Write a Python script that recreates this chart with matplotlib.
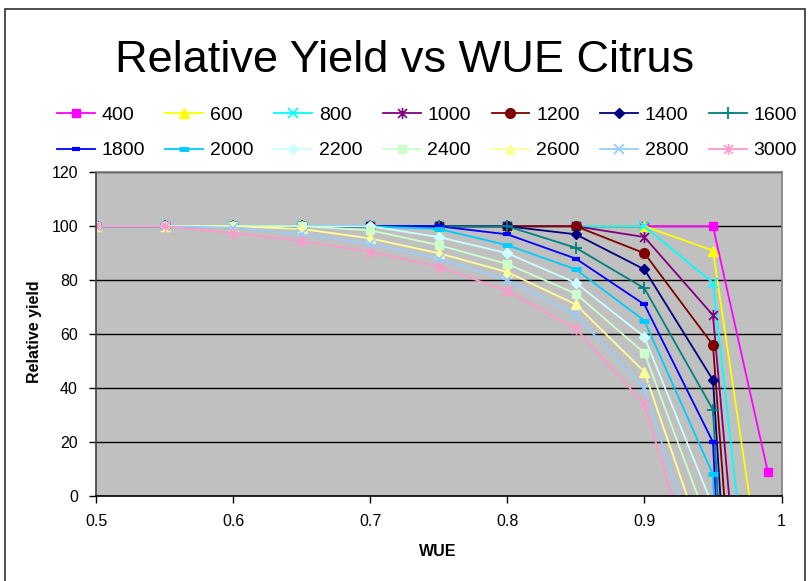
import matplotlib
matplotlib.use("Agg")
import matplotlib.pyplot as plt
from matplotlib.path import Path
from matplotlib.patches import Rectangle

plt.rcParams['font.family'] = ['Liberation Sans', 'DejaVu Sans']

# Water use efficiency values (x axis)
wue = [0.5, 0.55, 0.6, 0.65, 0.7, 0.75, 0.8, 0.85, 0.9, 0.95, 0.99]

# Relative yield for each water amount
y400 = [100, 100, 100, 100, 100, 100, 100, 100, 100, 100, 9]
y600 = [100, 100, 100, 100, 100, 100, 100, 100, 100, 91, -46]
y800 = [100, 100, 100, 100, 100, 100, 100, 100, 100, 79, -103]
y1000 = [100, 100, 100, 100, 100, 100, 100, 100, 96, 67, -160]
y1200 = [100, 100, 100, 100, 100, 100, 100, 100, 90, 56, -217]
y1400 = [100, 100, 100, 100, 100, 100, 100, 97, 84, 43, -275]
y1600 = [100, 100, 100, 100, 100, 100, 100, 92, 77, 32, -331]
y1800 = [100, 100, 100, 100, 100, 100, 97, 88, 71, 20, -389]
y2000 = [100, 100, 100, 100, 100, 99, 93, 84, 65, 8, -446]
y2200 = [100, 100, 100, 100, 100, 96, 90, 79, 59, -4, -503]
y2400 = [100, 100, 100, 100, 98.5, 93, 86, 75, 53, -15, -560]
y2600 = [100, 100, 100, 99, 95.5, 90, 83, 71, 46, -28, -618]
y2800 = [100, 100, 99.5, 97, 93.5, 88, 80, 67, 40, -40, -675]
y3000 = [100, 100, 97.5, 94.5, 90.5, 85, 76, 62, 34, -51, -733]

labels = ["400", "600", "800", "1000", "1200", "1400", "1600",
          "1800", "2000", "2200", "2400", "2600", "2800", "3000"]
series = [y400, y600, y800, y1000, y1200, y1400, y1600,
          y1800, y2000, y2200, y2400, y2600, y2800, y3000]

colors = ["#FF00FF", "#FFFF00", "#00FFFF", "#800080", "#800000", "#000080", "#008080",
          "#0000FF", "#00CCFF", "#CCFFFF", "#CCFFCC", "#FFFF99", "#99CCFF", "#FF99CC"]

# star marker: an x crossed by a vertical stroke
star = Path([(-1, -1), (1, 1), (-1, 1), (1, -1), (0, -1.25), (0, 1.25)],
            [Path.MOVETO, Path.LINETO] * 3)

styles = [
    dict(marker="s", ms=6),
    dict(marker="^", ms=7),
    dict(marker="x", ms=7, mew=1.3),
    dict(marker=star, ms=8, mew=1.2),
    dict(marker="o", ms=7),
    dict(marker="D", ms=5.5),
    dict(marker="+", ms=8, mew=1.3),
    dict(marker="_", ms=6, mew=3),
    dict(marker="_", ms=7, mew=3.5),
    dict(marker="D", ms=5.5),
    dict(marker="s", ms=6),
    dict(marker="^", ms=7),
    dict(marker="x", ms=7, mew=1.3),
    dict(marker=star, ms=8, mew=1.2),
]

fig = plt.figure(figsize=(8.11, 5.81), dpi=100)
fig.patch.set_facecolor("white")

ax = fig.add_axes([96 / 811, 1 - 496 / 581, 685.5 / 811, 323.7 / 581])
ax.set_facecolor("#C0C0C0")

handles = []
for vals, lab, col, st in zip(series, labels, colors, styles):
    st = dict(st)
    marker = st.pop("marker")
    ms = st.pop("ms")
    mew = st.pop("mew", 1.0)
    (h,) = ax.plot(wue, vals, color=col, lw=1.3, marker=marker, ms=ms,
                   mfc=col, mec=col, mew=mew, label=lab)
    handles.append(h)

ax.set_xlim(0.5, 1.0)
ax.set_ylim(0, 120)
ax.set_xticks([0.5, 0.6, 0.7, 0.8, 0.9, 1.0])
ax.set_xticklabels(["0.5", "0.6", "0.7", "0.8", "0.9", "1"])
ax.set_yticks([0, 20, 40, 60, 80, 100, 120])
ax.yaxis.grid(True, color="black", lw=1.0)
ax.set_axisbelow(True)
ax.tick_params(axis="both", direction="out", length=5, width=1, colors="black",
               labelsize=11.5)
ax.tick_params(axis="x", pad=8)
ax.tick_params(axis="y", pad=8)
for side in ("top", "right"):
    ax.spines[side].set_color("#808080")
    ax.spines[side].set_linewidth(1.2)
ax.spines["left"].set_color("#404040")
ax.spines["left"].set_linewidth(1.2)
ax.spines["bottom"].set_color("black")
ax.spines["bottom"].set_linewidth(1.2)

fig.text(405 / 811, 1 - 61 / 581, "Relative Yield vs WUE Citrus",
         ha="center", va="center", fontsize=32.5)
fig.text(35 / 811, 1 - 332 / 581, "Relative yield", rotation=90,
         ha="center", va="center", fontsize=11.5, fontweight="bold")
fig.text(438 / 811, 1 - 551 / 581, "WUE", ha="center", va="center",
         fontsize=11.5, fontweight="bold")

# legend laid out row by row: 7 entries per row
order = []
for c in range(7):
    order += [c, c + 7]
leg = fig.legend([handles[i] for i in order], [labels[i] for i in order],
                 ncol=7, loc="center", bbox_to_anchor=(427 / 811, 1 - 133 / 581),
                 frameon=False, fontsize=14, handlelength=1.95,
                 handletextpad=0.35, columnspacing=1.05, labelspacing=0.9,
                 borderpad=0, borderaxespad=0)

# chart border
fig.patches.append(Rectangle((5 / 811, -0.02), 800 / 811, 0.02 + 1 - 9 / 581,
                             transform=fig.transFigure, fill=False,
                             edgecolor="#303030", lw=1.2))

fig.savefig("out.png", dpi=100, facecolor="white")
